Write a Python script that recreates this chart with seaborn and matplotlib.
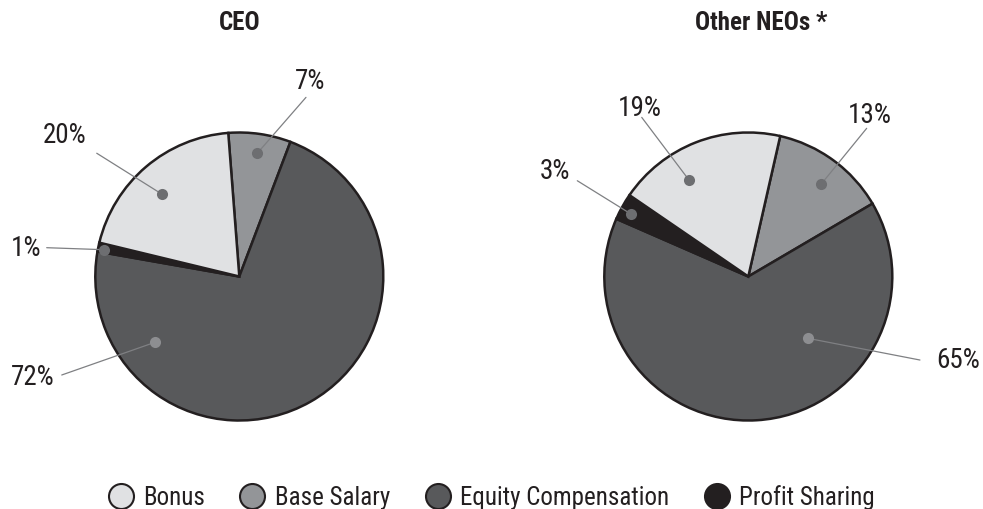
import numpy as np
import matplotlib.pyplot as plt
import seaborn as sns
from matplotlib.lines import Line2D

categories = ["Base Salary", "Equity Compensation", "Profit Sharing", "Bonus"]
ceo_values = [7, 72, 1, 20]
neo_values = [13, 65, 3, 19]
titles = ["CEO", "Other NEOs *"]
legend_order = ["Bonus", "Base Salary", "Equity Compensation", "Profit Sharing"]

colors = {"Bonus": "#e0e1e3", "Base Salary": "#939598",
          "Equity Compensation": "#58595b", "Profit Sharing": "#231f20"}
dot_colors = {"Bonus": "#6d6e71", "Base Salary": "#6d6e71",
              "Equity Compensation": "#8d8e91", "Profit Sharing": "#6d6e71"}
edge = "#231f20"

sns.set_theme(style="white")
plt.rcParams['font.family'] = ['Roboto Condensed', 'DejaVu Sans']

fig = plt.figure(figsize=(9.83, 5.10), dpi=100)
W, H = 983, 510
R = 144  # pie radius in px
span = 1.6

# label layout per pie: dot (x, y), line end (x, y), text (x, y) in radius units
layouts = [
    {"Base Salary": ((0.125, 0.856), (0.463, 1.244), (0.494, 1.358)),
     "Equity Compensation": ((-0.583, -0.456), (-1.233, -0.684), (-1.433, -0.691)),
     "Profit Sharing": ((-0.9375, 0.186), (-1.3375, 0.20), (-1.481, 0.198)),
     "Bonus": ((-0.539, 0.573), (-0.99, 0.856), (-1.21, 0.983))},
    {"Base Salary": ((0.505, 0.640), (0.822, 1.029), (0.845, 1.122)),
     "Equity Compensation": ((0.4125, -0.429), (1.192, -0.580), (1.456, -0.573)),
     "Profit Sharing": ((-0.815, 0.434), (-1.1875, 0.665), (-1.342, 0.733)),
     "Bonus": ((-0.412, 0.670), (-0.740, 1.105), (-0.752, 1.177))},
]
centers = [(239.3, 277.5), (748.3, 277.5)]
starts = [94.4, 77.2]
title_x = [240, 761]

for i, vals in enumerate([ceo_values, neo_values]):
    cx, cy = centers[i]
    ax = fig.add_axes([(cx - span * R) / W, (H - cy - span * R) / H,
                       2 * span * R / W, 2 * span * R / H])
    ax.pie(vals, colors=[colors[c] for c in categories], startangle=starts[i],
           counterclock=False, radius=1,
           wedgeprops=dict(edgecolor=edge, linewidth=1.8))
    ax.set_xlim(-span, span)
    ax.set_ylim(-span, span)
    ax.set_aspect("equal")
    ax.axis("off")
    for cat, v in zip(categories, vals):
        (dx, dy), (lx, ly), (tx, ty) = layouts[i][cat]
        ax.plot([dx, lx], [dy, ly], color="#7f8083", lw=0.9, zorder=3, clip_on=False)
        ax.plot(dx, dy, "o", ms=8, color=dot_colors[cat], mec="none", zorder=4)
        ax.text(tx, ty, f"{v}%", ha="center", va="center", fontsize=19.5,
                color="#231f20", clip_on=False)
    fig.text(title_x[i] / W, 1 - 23 / H, titles[i], ha="center", va="center",
             fontsize=18, fontweight="bold", color="#231f20")

handles = [Line2D([], [], ls="none", marker="o", ms=18, mfc=colors[c],
                  mec=edge, mew=1.5) for c in legend_order]
fig.legend(handles, legend_order, loc="center", bbox_to_anchor=(0.5, 1 - 498 / H),
           ncol=4, frameon=False, fontsize=18, handletextpad=0.4,
           columnspacing=1.4, handlelength=1.0, labelcolor="#231f20")

fig.savefig("out.png", dpi=100)
